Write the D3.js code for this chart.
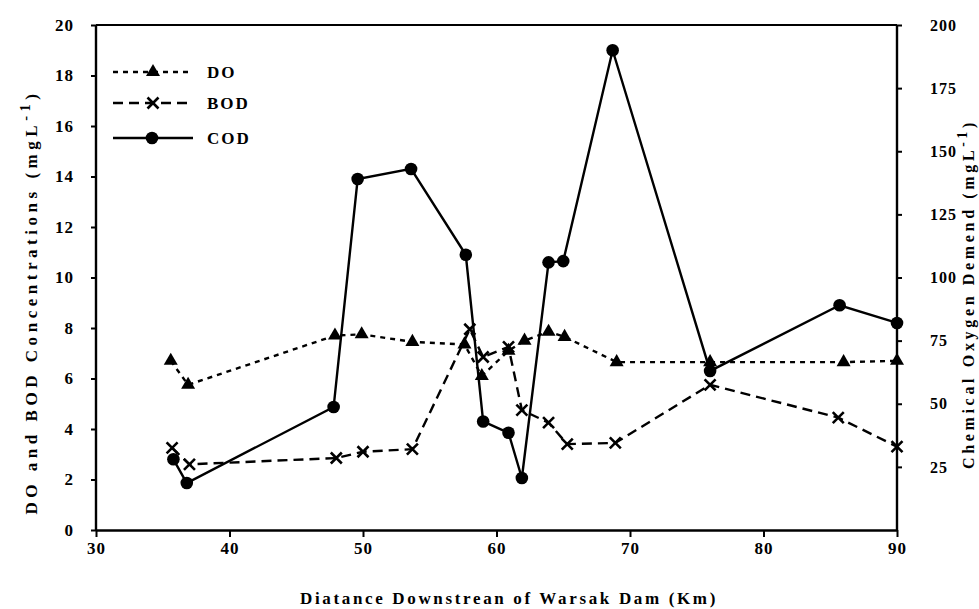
<!DOCTYPE html>
<html>
<head>
<meta charset="utf-8">
<script src="https://cdn.jsdelivr.net/npm/d3@7"></script>
<style>
  html, body { margin: 0; padding: 0; background: #fff; }
  svg { display: block; }
  text { font-family: "Liberation Serif", "DejaVu Serif", serif; font-weight: bold; fill: #000; }
</style>
</head>
<body>
<svg id="chart" width="979" height="609"></svg>
<script>
// ---- data ----
const xTicks = [30, 40, 50, 60, 70, 80, 90];
const yLeftTicks = [0, 2, 4, 6, 8, 10, 12, 14, 16, 18, 20];
const yRightTicks = [25, 50, 75, 100, 125, 150, 175, 200];

const distDO = [35.6, 36.9, 47.9, 49.9, 53.7, 57.6, 58.9, 60.9, 62.1, 63.9, 65.1, 69.0, 76.0, 86.0, 90.0];
const valDO  = [6.7, 5.75, 7.7, 7.75, 7.45, 7.35, 6.1, 7.1, 7.5, 7.85, 7.65, 6.65, 6.65, 6.65, 6.7];

const distBOD = [35.7, 37.0, 48.0, 50.0, 53.7, 58.0, 59.0, 60.9, 61.9, 63.9, 65.3, 68.9, 76.0, 85.6, 90.0];
const valBOD  = [3.25, 2.6, 2.85, 3.1, 3.2, 7.95, 6.85, 7.25, 4.75, 4.25, 3.4, 3.45, 5.75, 4.45, 3.3];

const distCOD = [35.8, 36.8, 47.8, 49.6, 53.6, 57.7, 59.0, 60.9, 61.9, 63.9, 65.0, 68.7, 76.0, 85.7, 90.0];
const valCOD  = [28, 18.6, 48.7, 139, 143, 109, 43, 38.5, 20.6, 106, 106.5, 190, 63, 89, 82];

const xTitle = "Diatance Downstrean of Warsak Dam (Km)";
const yLeftTitle = "DO and BOD Concentrations (mgL";
const yRightTitle = "Chemical Oxygen Demend (mgL";
const legendNames = ["DO", "BOD", "COD"];

// ---- layout ----
const L = 96, R = 897, T = 25, B = 530;
const svg = d3.select("#chart");
const x = d3.scaleLinear().domain([30, 90]).range([L, R]);
const yL = d3.scaleLinear().domain([0, 20]).range([B, T]);
const yR = d3.scaleLinear().domain([0, 200]).range([B, T]);

const SW = 2.4;

svg.append("line").attr("x1", L).attr("x2", R).attr("y1", T).attr("y2", T)
  .attr("stroke", "#000").attr("stroke-width", 2.2);

function styleAxis(g, fs) {
  g.select(".domain").attr("stroke", "#000").attr("stroke-width", SW);
  g.selectAll(".tick line").attr("stroke", "#000").attr("stroke-width", 2);
  g.selectAll(".tick text").attr("font-family", '"Liberation Serif", serif')
    .attr("font-weight", "bold").attr("font-size", fs).attr("fill", "#000")
    .style("letter-spacing", "1px");
}

const gx = svg.append("g").attr("transform", `translate(0,${B})`)
  .call(d3.axisBottom(x).tickValues(xTicks).tickSize(7).tickPadding(5).tickSizeOuter(0).tickFormat(d3.format("d")));
styleAxis(gx, 17);

const gyl = svg.append("g").attr("transform", `translate(${L},0)`)
  .call(d3.axisLeft(yL).tickValues(yLeftTicks).tickSize(5).tickPadding(17).tickSizeOuter(0).tickFormat(d3.format("d")));
styleAxis(gyl, 17);

const gyr = svg.append("g").attr("transform", `translate(${R},0)`)
  .call(d3.axisRight(yR).tickValues(yRightTicks).tickSize(5).tickPadding(28).tickSizeOuter(0).tickFormat(d3.format("d")));
styleAxis(gyr, 16);
gyr.select(".domain").attr("d", `M0,${B}V${T}`);
gyl.select(".domain").attr("d", `M0,${B}V${T}`);

// ---- spacing helper: iterate letter-spacing so bbox width matches target ----
function fit(t, target, n) {
  let ls = 0;
  for (let k = 0; k < 4; k++) {
    t.style("letter-spacing", ls + "px");
    const w = t.node().getBBox().width;
    ls += (target - w) / n;
  }
  t.style("letter-spacing", ls + "px");
}

const xt = svg.append("text").attr("x", 509).attr("y", 604).attr("text-anchor", "middle")
  .attr("font-size", 17).text(xTitle);
fit(xt, 418, xTitle.length);

function rotTitle(cx, cy, base, target, fs) {
  const t = svg.append("text").attr("transform", `translate(${cx},${cy}) rotate(-90)`)
    .attr("text-anchor", "middle").attr("font-size", fs);
  t.append("tspan").text(base);
  t.append("tspan").attr("dy", -7).attr("font-size", fs * 0.85).text("-1");
  t.append("tspan").attr("dy", 7).text(")");
  fit(t, target, (base + "-1)").length);
  return t;
}
rotTitle(37, 302, yLeftTitle, 425, 17);
rotTitle(974, 294, yRightTitle, 350, 16);

// ---- series ----
const dataDO = distDO.map((d, i) => [d, valDO[i]]);
const dataBOD = distBOD.map((d, i) => [d, valBOD[i]]);
const dataCOD = distCOD.map((d, i) => [d, valCOD[i]]);

const lineL = d3.line().x(d => x(d[0])).y(d => yL(d[1]));
const lineR = d3.line().x(d => x(d[0])).y(d => yR(d[1]));

svg.append("path").datum(dataBOD).attr("d", lineL).attr("fill", "none")
  .attr("stroke", "#000").attr("stroke-width", SW).attr("stroke-dasharray", "10,6");
svg.append("path").datum(dataDO).attr("d", lineL).attr("fill", "none")
  .attr("stroke", "#000").attr("stroke-width", SW).attr("stroke-dasharray", "5,5");
svg.append("path").datum(dataCOD).attr("d", lineR).attr("fill", "none")
  .attr("stroke", "#000").attr("stroke-width", SW);

const tri = d3.symbol().type(d3.symbolTriangle).size(85);
function drawTri(g, cx, cy) {
  g.append("path").attr("d", tri()).attr("transform", `translate(${cx},${cy})`).attr("fill", "#000");
}
function drawX(g, cx, cy) {
  const s = 5.5;
  g.append("path").attr("d", `M${cx - s},${cy - s}L${cx + s},${cy + s}M${cx + s},${cy - s}L${cx - s},${cy + s}`)
    .attr("stroke", "#000").attr("stroke-width", 2.6).attr("fill", "none");
}
function drawDot(g, cx, cy) {
  g.append("circle").attr("cx", cx).attr("cy", cy).attr("r", 6.3).attr("fill", "#000");
}

const gm = svg.append("g");
dataDO.forEach(d => drawTri(gm, x(d[0]), yL(d[1])));
dataBOD.forEach(d => drawX(gm, x(d[0]), yL(d[1])));
dataCOD.forEach(d => drawDot(gm, x(d[0]), yR(d[1])));

// ---- legend ----
const lg = svg.append("g");
const legY = [72, 103, 138];
const dashes = ["5,5", "10,6", null];
legY.forEach((ly, i) => {
  const ln = lg.append("line").attr("x1", 113).attr("x2", 193).attr("y1", ly).attr("y2", ly)
    .attr("stroke", "#000").attr("stroke-width", SW);
  if (dashes[i]) ln.attr("stroke-dasharray", dashes[i]);
  if (i === 0) drawTri(lg, 153, ly);
  if (i === 1) drawX(lg, 153, ly);
  if (i === 2) drawDot(lg, 152, ly);
  const t = lg.append("text").attr("x", 207).attr("y", ly + 6).attr("font-size", 17).text(legendNames[i]);
  t.style("letter-spacing", "2px");
});
</script>
</body>
</html>
